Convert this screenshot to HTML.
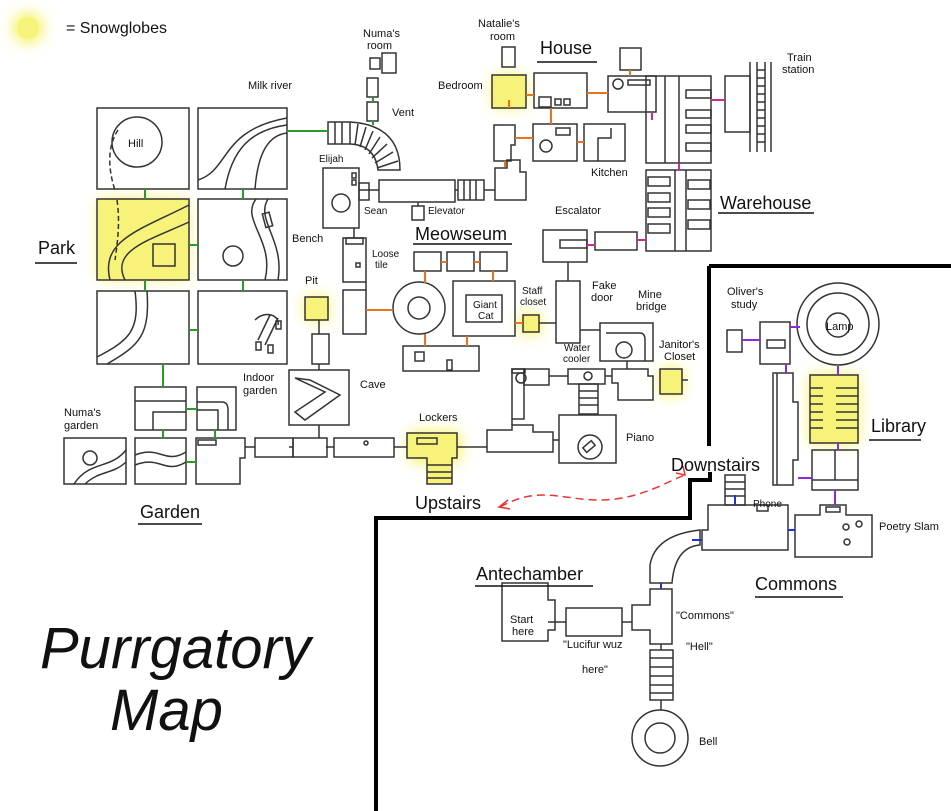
<!DOCTYPE html>
<html><head><meta charset="utf-8"><style>
html,body{margin:0;padding:0;background:#fff;}
svg{display:block}
text{font-family:"Liberation Sans",sans-serif;fill:#111}
</style></head><body>
<svg width="951" height="811" viewBox="0 0 951 811" xmlns="http://www.w3.org/2000/svg">
<defs><filter id="b" x="-1" y="-1" width="3" height="3"><feGaussianBlur stdDeviation="7"/></filter></defs>
<!-- glows -->
<g fill="#f4f04a" filter="url(#b)" opacity="0.9">
<circle cx="28" cy="28" r="15"/>
<rect x="99" y="200" width="88" height="78"/>
<rect x="305" y="297" width="23" height="23"/>
<rect x="493" y="76" width="32" height="31"/>
<rect x="520" y="314" width="20" height="20"/>
<rect x="660" y="369" width="22" height="26"/>
<rect x="410" y="432" width="50" height="30"/>
<rect x="810" y="375" width="48" height="68"/>
</g>
<g fill="#f7f37a">
<circle cx="28" cy="28" r="11"/>
<rect x="98" y="199" width="90" height="81"/>
<rect x="305" y="297" width="23" height="23"/>
<rect x="492" y="75" width="34" height="33"/>
<rect x="523" y="315" width="16" height="17"/>
<rect x="660" y="369" width="22" height="25"/>
<rect x="407" y="432" width="50" height="26"/>
<rect x="427" y="458" width="25" height="26"/>
<rect x="810" y="375" width="48" height="68"/>
</g>
<text x="66" y="33" font-size="16">= Snowglobes</text>
<g fill="none" stroke="#333" stroke-width="1.5">
<!-- park -->
<rect x="97" y="108" width="92" height="81"/><circle cx="137" cy="142" r="25"/>
<path d="M118,130 C105,150 110,175 115,190 M117,200 C120,220 118,240 115,260" stroke-dasharray="5 3"/>
<rect x="198" y="108" width="89" height="81"/>
<path d="M198,180 C230,170 220,130 287,118 M225,189 C232,150 250,130 287,125 M255,189 C258,150 270,135 287,133"/>
<rect x="97" y="199" width="92" height="81"/>
<path d="M110,280 C100,240 140,230 189,205 M125,280 C110,250 150,240 189,222"/>
<rect x="153" y="244" width="22" height="22"/>
<rect x="198" y="199" width="89" height="81"/><circle cx="233" cy="256" r="10"/>
<path d="M256,199 C240,220 275,240 265,280 M268,199 C255,220 285,240 278,280"/>
<rect x="264" y="213" width="7" height="14" transform="rotate(-15 267 220)"/>
<rect x="97" y="291" width="92" height="73"/>
<path d="M97,357 C130,340 140,330 135,291 M107,364 C140,345 150,335 147,291"/>
<rect x="198" y="291" width="89" height="73"/>
<path d="M258,340 L270,315 M265,345 L278,318 M255,320 C265,310 280,315 278,325"/>
<rect x="276" y="321" width="5" height="8"/><rect x="256" y="342" width="5" height="8"/><rect x="268" y="345" width="5" height="8"/>
<!-- garden -->
<rect x="135" y="387" width="51" height="43"/><path d="M135,401 H186 M153,430 V412 H186"/>
<rect x="197" y="387" width="39" height="43"/><path d="M197,402 H222 Q228,402 228,410 V430 M197,410 H218 V430"/>
<rect x="64" y="438" width="62" height="46"/><circle cx="90" cy="458" r="7"/><path d="M74,484 C90,460 110,470 126,450 M85,484 C100,470 112,475 126,462"/>
<rect x="135" y="438" width="51" height="46"/><path d="M135,455 C160,445 165,465 186,452 M135,465 C160,455 165,475 186,462"/>
<path d="M196,438 H245 V458 H240 V484 H196 Z"/><rect x="198" y="440" width="18" height="5"/>
<!-- corridor -->
<rect x="255" y="438" width="38" height="19"/><rect x="293" y="438" width="34" height="19"/>
<rect x="334" y="438" width="60" height="19"/><circle cx="366" cy="443" r="2"/>
<path d="M407,433 H457 V458 H452 V484 H427 V458 H407 Z"/><rect x="417" y="438" width="20" height="6"/>
<path d="M427,465 H452 M427,472 H452 M427,478 H452"/>
<rect x="289" y="370" width="60" height="55"/><path d="M295,378 L325,392 L295,412 L305,420 L340,395 L310,380 Z"/>
<rect x="305" y="297" width="23" height="23"/><rect x="312" y="334" width="17" height="30"/>
<!-- vent -->
<path d="M328,122 H350 Q400,125 400,170 H378 Q375,145 350,144 H328 Z"/>
<path d="M335,122V144 M342,122V144 M350,122V144 M358,124L355,145 M366,127L360,147 M373,131L365,150 M380,137L369,154 M387,144L372,158 M393,152L375,163 M398,161L377,168"/>
<rect x="370" y="58" width="10" height="11"/><rect x="382" y="53" width="14" height="20"/><rect x="367" y="78" width="11" height="19"/><rect x="367" y="102" width="11" height="19"/>
<!-- elijah -->
<rect x="323" y="168" width="36" height="60"/><circle cx="341" cy="203" r="9"/><rect x="352" y="173" width="4" height="5"/><rect x="352" y="180" width="4" height="5"/>
<rect x="359" y="183" width="10" height="17"/>
<rect x="379" y="180" width="76" height="22"/>
<rect x="458" y="180" width="26" height="20"/><path d="M464,180V200 M470,180V200 M476,180V200"/>
<path d="M495,200 V168 H507 V160 H520 V172 H526 V200 Z"/><rect x="412" y="206" width="12" height="14"/>
<rect x="343" y="238" width="23" height="44"/><rect x="346" y="238" width="17" height="6"/><rect x="356" y="263" width="4" height="4"/>
<rect x="343" y="290" width="23" height="44"/>
<circle cx="419" cy="308" r="26"/><circle cx="419" cy="308" r="11"/>
<rect x="414" y="252" width="27" height="19"/><rect x="447" y="252" width="27" height="19"/><rect x="480" y="252" width="27" height="19"/>
<rect x="453" y="281" width="62" height="55"/><rect x="466" y="295" width="36" height="27"/>
<rect x="403" y="346" width="76" height="25"/><rect x="415" y="352" width="9" height="9"/><rect x="447" y="360" width="5" height="10"/>
<!-- house -->
<rect x="502" y="47" width="13" height="20"/><rect x="492" y="75" width="34" height="33"/>
<rect x="534" y="73" width="53" height="35"/><rect x="539" y="97" width="12" height="10"/><rect x="555" y="99" width="6" height="6"/><rect x="564" y="99" width="6" height="6"/>
<rect x="608" y="76" width="48" height="36"/><rect x="620" y="48" width="21" height="22"/><circle cx="618" cy="84" r="5"/><rect x="628" y="80" width="22" height="5"/>
<path d="M494,125 H515 V145 H511 V161 H494 Z"/><rect x="533" y="124" width="44" height="37"/><circle cx="546" cy="146" r="6"/><rect x="556" y="128" width="14" height="7"/>
<rect x="584" y="124" width="41" height="37"/><path d="M598,161 V138 H611 V128"/>
<!-- warehouse -->
<rect x="646" y="76" width="65" height="87"/><path d="M665,76 V163 M679,76V163"/>
<rect x="686" y="90" width="25" height="8"/><rect x="686" y="110" width="25" height="8"/><rect x="686" y="125" width="25" height="8"/><rect x="686" y="143" width="25" height="8"/>
<rect x="646" y="170" width="65" height="81"/><path d="M675,170 V251 M686,170V251"/>
<rect x="648" y="177" width="22" height="9"/><rect x="648" y="193" width="22" height="9"/><rect x="648" y="208" width="22" height="9"/><rect x="648" y="224" width="22" height="9"/><rect x="688" y="180" width="22" height="9"/><rect x="688" y="200" width="22" height="9"/><rect x="688" y="220" width="22" height="9"/>
<rect x="725" y="76" width="25" height="56"/><path d="M750,62 V152 M771,62 V152 M757,62V152 M765,62V152 M757,70H765 M757,78H765 M757,86H765 M757,94H765 M757,102H765 M757,110H765 M757,118H765 M757,126H765 M757,134H765 M757,142H765"/>
<!-- middle -->
<rect x="543" y="230" width="44" height="32"/><rect x="560" y="240" width="27" height="8"/>
<rect x="595" y="232" width="42" height="18"/>
<rect x="556" y="281" width="24" height="62"/>
<rect x="600" y="323" width="53" height="38"/><circle cx="624" cy="350" r="8"/><path d="M606,333 H640 Q645,333 645,340 V361"/>
<path d="M512,369 H525 V373 H512 Z"/><rect x="512" y="369" width="12" height="50"/><rect x="524" y="369" width="25" height="16"/><circle cx="521" cy="378" r="5"/>
<rect x="568" y="369" width="37" height="15"/><circle cx="588" cy="376" r="4"/>
<rect x="579" y="384" width="19" height="30"/><path d="M579,391H598 M579,398H598 M579,405H598"/>
<path d="M612,369 H648 V376 H653 V400 H618 V383 H612 Z"/>
<rect x="660" y="369" width="22" height="25"/>
<rect x="523" y="315" width="16" height="17"/>
<path d="M487,430 H512 V425 H533 V432 H553 V452 H487 Z"/>
<rect x="559" y="415" width="57" height="48"/><circle cx="590" cy="447" r="12"/><rect x="584" y="443" width="11" height="6" transform="rotate(-40 590 447)"/>
<!-- library -->
<circle cx="838" cy="324" r="41"/><circle cx="838" cy="324" r="31"/><circle cx="838" cy="325" r="12"/>
<rect x="760" y="322" width="30" height="42"/><rect x="767" y="340" width="18" height="8"/><rect x="727" y="330" width="15" height="22"/>
<path d="M773,373 H793 V402 H798 V460 H793 V485 H773 Z M777,373 V485"/>
<rect x="810" y="375" width="48" height="68"/>
<path d="M810,388 H823 M810,396 H823 M810,404 H823 M810,412 H823 M810,420 H823 M810,428 H823 M836,388 H858 M836,396 H858 M836,404 H858 M836,412 H858 M836,420 H858 M836,428 H858"/>
<rect x="812" y="450" width="46" height="40"/><path d="M835,450 V480 M812,480 H858"/>
<path d="M795,515 H820 V505 H846 V515 H872 V557 H795 Z"/><rect x="826" y="507" width="14" height="5"/>
<circle cx="846" cy="527" r="3"/><circle cx="859" cy="524" r="3"/><circle cx="847" cy="542" r="3"/>
<!-- commons -->
<path d="M708,505 H788 V550 H702 V530 H708 Z"/><rect x="757" y="505" width="11" height="6"/>
<rect x="725" y="475" width="20" height="30"/><path d="M725,482H745 M725,489H745 M725,496H745"/>
<path d="M650,583 V565 Q655,535 700,530 V545 Q675,547 672,583 Z"/>
<path d="M632,605 H650 V589 H672 V644 H650 V630 H632 Z"/>
<path d="M502,583 H548 V600 H555 V630 H548 V641 H502 Z"/>
<rect x="566" y="608" width="56" height="28"/>
<rect x="650" y="650" width="23" height="50"/><path d="M650,658H673 M650,667H673 M650,676H673 M650,685H673 M650,693H673"/>
<circle cx="660" cy="738" r="28"/><circle cx="660" cy="738" r="15"/>
</g>
<!-- connectors -->
<g stroke="#2a9a2a" stroke-width="2">
<path d="M145,189V199 M243,189V199 M189,245H198 M145,280V291 M243,280V291 M189,330H198 M163,364V387 M186,409H197 M163,430V438 M215,430V438 M186,462H196 M287,131H328 M373,97V102 M373,120V125"/>
</g>
<g stroke="#e8731e" stroke-width="2">
<path d="M366,310H393 M441,262H447 M474,262H480 M425,271V283 M493,271V281 M425,334V346 M467,336V346 M515,323H523 M509,100V108 M526,95H534 M587,93H608 M630,70V76 M551,108V124 M515,138H533 M577,142H584 M505,161V167"/>
</g>
<g stroke="#cc2a9a" stroke-width="2"><path d="M711,100H725 M679,163V170 M587,245H595 M637,240H646 M652,112V120"/></g>
<g stroke="#8a2ae0" stroke-width="2"><path d="M742,340H760 M790,327H800 M786,364V373 M838,366V375 M838,443V450 M798,478H812 M835,490V505"/></g>
<g stroke="#2035d0" stroke-width="2"><path d="M735,495V505 M788,530H795 M702,540H692 M661,583V589"/></g>
<g stroke="#333" stroke-width="1.5"><path d="M366,282V290 M354,228V238 M359,190H379 M455,190H458 M484,190H495 M418,202V206 M319,320V334 M319,364V370 M319,425V438 M293,447H289 M326,447H334 M394,447H407 M245,447H255 M457,447H487 M512,419V425 M553,440H559 M588,414V415 M549,376H568 M605,376H612 M682,380H688 M539,323H556 M580,330H600 M568,262V281 M627,361V369 M548,622H566 M622,622H632 M661,644V650 M661,700V710"/></g>
<!-- boundary -->
<path d="M709,266 H951 M709,266 V446 M710,472 V480 H690 V518 H376 V811" fill="none" stroke="#000" stroke-width="4"/>
<path d="M500,507 C540,485 560,500 600,500 C640,500 670,480 685,475" fill="none" stroke="#e33" stroke-width="1.5" stroke-dasharray="8 5"/>
<path d="M508,500 L499,507 L510,509 M676,473 L685,475 L683,466" fill="none" stroke="#e33" stroke-width="1.5"/>
<!-- labels -->
<g font-size="11">
<text x="128" y="147">Hill</text><text x="248" y="89">Milk river</text><text x="292" y="242">Bench</text>
<text x="363" y="37">Numa's</text><text x="367" y="49">room</text><text x="392" y="116">Vent</text>
<text x="319" y="162" font-size="10">Elijah</text><text x="364" y="214" font-size="10">Sean</text><text x="428" y="214" font-size="10">Elevator</text>
<text x="372" y="257" font-size="10">Loose</text><text x="375" y="268" font-size="10">tile</text>
<text x="305" y="284">Pit</text><text x="360" y="388">Cave</text>
<text x="243" y="381">Indoor</text><text x="243" y="394">garden</text>
<text x="64" y="416">Numa's</text><text x="64" y="429">garden</text>
<text x="419" y="421">Lockers</text>
<text x="478" y="27">Natalie's</text><text x="490" y="40">room</text><text x="438" y="89">Bedroom</text>
<text x="591" y="176">Kitchen</text>
<text x="555" y="214">Escalator</text>
<text x="473" y="308" font-size="10">Giant</text><text x="478" y="319" font-size="10">Cat</text>
<text x="522" y="294" font-size="10">Staff</text><text x="520" y="305" font-size="10">closet</text>
<text x="592" y="289">Fake</text><text x="591" y="301">door</text>
<text x="638" y="298">Mine</text><text x="636" y="310">bridge</text>
<text x="564" y="351" font-size="10">Water</text><text x="563" y="362" font-size="10">cooler</text>
<text x="659" y="348">Janitor's</text><text x="664" y="360">Closet</text>
<text x="626" y="441">Piano</text>
<text x="787" y="61">Train</text><text x="782" y="73">station</text>
<text x="727" y="295">Oliver's</text><text x="731" y="308">study</text>
<text x="826" y="330">Lamp</text><text x="753" y="507" font-size="10">Phone</text>
<text x="879" y="530">Poetry Slam</text>
<text x="510" y="623">Start</text><text x="512" y="635">here</text>
<text x="676" y="619">"Commons"</text><text x="686" y="650">"Hell"</text>
<text x="563" y="648">"Lucifur wuz</text><text x="582" y="673">here"</text>
<text x="699" y="745">Bell</text>
</g>
<g font-size="18">
<text x="38" y="254">Park</text><text x="140" y="518">Garden</text><text x="540" y="54">House</text>
<text x="415" y="240">Meowseum</text><text x="720" y="209">Warehouse</text><text x="871" y="432">Library</text>
<text x="671" y="471">Downstairs</text><text x="415" y="509">Upstairs</text><text x="755" y="590">Commons</text><text x="476" y="580">Antechamber</text>
</g>
<g stroke="#111" stroke-width="1.5" fill="none">
<path d="M35,263H77 M138,524H202 M537,62H597 M413,244H512 M718,213H814 M869,440H921 M755,597H843 M475,586H593"/>
</g>
<text x="40" y="668" font-family="'Liberation Serif',serif" font-style="italic" font-size="58">Purrgatory</text>
<text x="110" y="730" font-family="'Liberation Serif',serif" font-style="italic" font-size="58">Map</text>
</svg>
</body></html>
